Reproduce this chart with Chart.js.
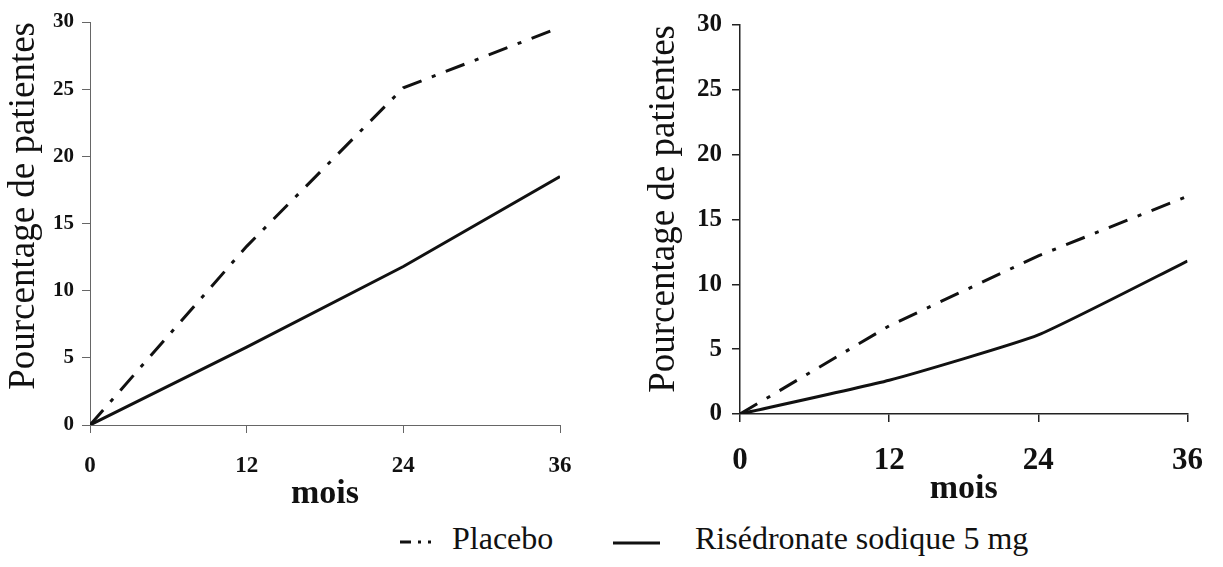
<!DOCTYPE html>
<html lang="fr">
<head>
<meta charset="utf-8">
<script src="https://cdn.jsdelivr.net/npm/chart.js@4.4.1/dist/chart.umd.min.js"></script>
<style>
  html, body { margin: 0; padding: 0; background: #fff; }
  body { width: 1223px; height: 567px; position: relative; overflow: hidden; font-family: "Liberation Serif", "Times New Roman", serif; color: #111; }
  canvas { position: absolute; top: 0; }
  #gauche { left: 0; }
  #droite { left: 636px; }
  .leg { position: absolute; top: 520px; font-size: 32px; white-space: nowrap; }
  svg { position: absolute; }
</style>
</head>
<body>
<canvas id="gauche" width="620" height="515"></canvas>
<canvas id="droite" width="587" height="510"></canvas>

<svg style="left:400px; top:532px" width="44" height="20">
  <line x1="0" y1="10" x2="44" y2="10" stroke="#111" stroke-width="3" stroke-dasharray="11,7,3,7,3,40"/>
</svg>
<div class="leg" style="left:452px">Placebo</div>
<svg style="left:613px; top:533px" width="48" height="20">
  <line x1="0" y1="10" x2="47" y2="10" stroke="#111" stroke-width="3"/>
</svg>
<div class="leg" style="left:695px">Risédronate sodique 5 mg</div>

<script>
// mois de suivi
const mois = [0, 12, 24, 36];

// graphique de gauche
const placeboGauche = [0, 13.3, 25.1, 29.6];
const risedronateGauche = [0, 5.8, 11.8, 18.5];

// graphique de droite
const placeboDroite = [0, 6.8, 12.2, 16.8];
const risedronateDroite = [0, 2.6, 6.1, 11.8];

const yMax = 30;
const yPas = 5;
const titreY = 'Pourcentage de patientes';
const titreX = 'mois';

const NOIR = '#111';
const POINTILLE = [20, 11, 4, 11];

function points(valeurs) {
    return mois.map((m, i) => ({ x: m, y: valeurs[i] }));
}

function creerGraphique(id, placebo, risedronate, opt) {
    const ctx = document.getElementById(id).getContext('2d');
    return new Chart(ctx, {
        type: 'line',
        data: {
            datasets: [
                { label: 'Placebo', data: points(placebo), borderColor: NOIR, borderWidth: 3, borderDash: POINTILLE, pointRadius: 0, tension: 0 },
                { label: 'Risédronate sodique 5 mg', data: points(risedronate), borderColor: NOIR, borderWidth: 3, pointRadius: 0, tension: opt.tension }
            ]
        },
        options: {
            responsive: false,
            animation: false,
            devicePixelRatio: 1,
            layout: { padding: { top: 22, right: opt.droite, left: 0, bottom: 0 } },
            plugins: { legend: { display: false }, tooltip: { enabled: false } },
            scales: {
                x: {
                    type: 'linear', min: 0, max: 36,
                    afterFit: s => { s.height = opt.hauteurX; },
                    border: { color: opt.axe, width: opt.epaisseur },
                    grid: { drawOnChartArea: false, drawTicks: true, tickLength: 8, color: opt.axe, lineWidth: opt.epaisseur },
                    ticks: { stepSize: 12, autoSkip: false, maxRotation: 0, padding: opt.padX, color: NOIR,
                             font: { family: 'Liberation Serif', size: opt.tailleX, weight: 'bold' } },
                    title: { display: true, text: titreX, color: NOIR, padding: 0,
                             font: { family: 'Liberation Serif', size: 34, weight: 'bold' } }
                },
                y: {
                    min: 0, max: yMax,
                    afterFit: s => { s.width = opt.largeurY; },
                    border: { color: opt.axe, width: opt.epaisseur },
                    grid: { drawOnChartArea: false, drawTicks: true, tickLength: 8, color: opt.axe, lineWidth: opt.epaisseur },
                    ticks: { stepSize: yPas, padding: opt.padY, color: NOIR,
                             font: { family: 'Liberation Serif', size: opt.tailleY, weight: 'bold' } },
                    title: { display: true, text: titreY, color: NOIR, align: 'end', padding: { top: opt.padTitre, bottom: 0 },
                             font: { family: 'Liberation Serif', size: 37 } }
                }
            }
        }
    });
}

creerGraphique('gauche', placeboGauche, risedronateGauche, {
    droite: 60, hauteurX: 90, largeurY: 90, padX: 19, padY: 8, tailleX: 23, tailleY: 21,
    padTitre: 2, axe: '#666', epaisseur: 1, tension: 0
});

creerGraphique('droite', placeboDroite, risedronateDroite, {
    droite: 26, hauteurX: 96, largeurY: 104, padX: 20, padY: 10, tailleX: 31, tailleY: 25,
    padTitre: 6, axe: '#222', epaisseur: 1.5, tension: 0.15
});
</script>
</body>
</html>
